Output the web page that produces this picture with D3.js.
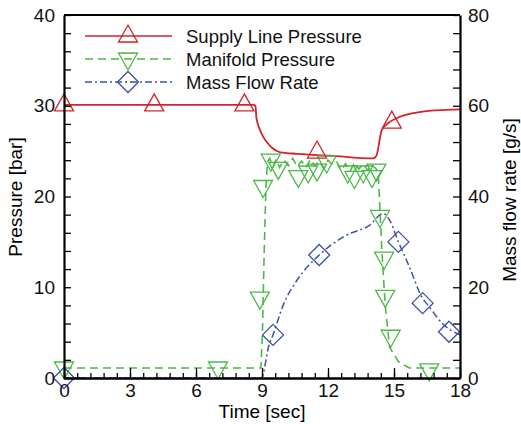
<!DOCTYPE html>
<html>
<head>
<meta charset="utf-8">
<script src="https://cdn.jsdelivr.net/npm/d3@7.9.0/dist/d3.min.js"></script>
<style>
  body { margin: 0; background: #fff; }
  svg { display: block; font-family: "Liberation Sans", Arial, sans-serif; }
</style>
</head>
<body>
<div id="chart"></div>
<script>
// Supply line pressure [bar]
const supplyTime = [0, 4, 8.6, 8.7, 8.75, 8.9, 9.05, 9.25, 9.44, 9.8, 10.6, 12.1, 14.05, 14.2, 14.44, 14.74, 15.1, 15.9, 16.9, 18];
const supplyP    = [30.1, 30.1, 30.1, 30.0, 28.6, 27.4, 26.6, 25.9, 25.4, 24.9, 24.7, 24.5, 24.2, 24.5, 27.3, 28.1, 28.6, 29.2, 29.5, 29.6];
const supplyMarkT = [0, 4.1, 8.2, 11.5, 14.9];
const supplyMarkP = [30.1, 30.1, 30.1, 24.9, 28.2];

// Manifold pressure [bar]
const manifoldTime = [0, 8.95, 9.02, 9.1, 9.18, 9.25, 9.35, 9.5, 9.65, 9.8, 10.0, 10.2, 10.4, 10.6, 10.8, 11.0, 11.2, 11.4,
  11.6, 11.8, 12.0, 12.2, 12.4, 12.6, 12.8, 13.0, 13.2, 13.4, 13.6, 13.8, 14.0, 14.2, 14.3, 14.45, 14.6, 14.8, 15.2, 15.7, 18];
const manifoldP = [1.1, 1.1, 5, 14, 21, 23.8, 24.2, 23.3, 24.1, 23.2, 24.0, 23.4, 24.2, 23.3, 23.9, 23.2, 24.1, 23.4,
  23.9, 23.1, 24.0, 23.5, 23.8, 22.9, 23.6, 22.8, 23.7, 23.0, 23.6, 22.9, 23.5, 23.0, 21.8, 14, 8, 3.4, 1.8, 1.1, 1.1];
const manifoldMarkT = [0, 7.0, 8.9, 9.05, 9.4, 9.74, 10.65, 11.1, 11.5, 11.94, 12.9, 13.2, 13.6, 14.0, 14.2, 14.36, 14.55, 14.6, 14.85, 16.6];
const manifoldMarkP = [1.1, 1.1, 8.8, 21.1, 24.0, 23.1, 22.2, 22.7, 22.9, 23.8, 22.7, 22.1, 22.7, 22.2, 22.9, 17.8, 13.2, 9.0, 4.6, 0.9];

// Mass flow rate [g/s]
const massTime = [0, 9.0, 9.06, 9.3, 9.5, 10.0, 10.6, 11.6, 12.85, 13.9, 14.5, 14.8, 15.2, 15.7, 16.26, 16.6, 17.2, 18];
const massFlow = [0, 0, 1, 6.9, 9.5, 16.5, 21.6, 27.1, 31.5, 33.7, 36.3, 34.8, 30.0, 24.5, 17.9, 15.7, 12.0, 9.5];
const massMarkT = [0, 9.5, 11.6, 15.2, 16.3, 17.5];
const massMarkV = [0, 9.5, 27.1, 30.0, 16.5, 10.2];

const legendLabels = ['Supply Line Pressure', 'Manifold Pressure', 'Mass Flow Rate'];

const width = 521;
const height = 424;
const margin = { top: 15, right: 61, bottom: 46, left: 64 };

const red = '#d4222c';
const green = '#4cb848';
const blue = '#3a52a3';

const svg = d3.select('#chart')
  .append('svg')
  .attr('width', width)
  .attr('height', height);

const x = d3.scaleLinear().domain([0, 18]).range([margin.left, width - margin.right]);
const yL = d3.scaleLinear().domain([0, 40]).range([height - margin.bottom, margin.top]);
const yR = d3.scaleLinear().domain([0, 80]).range([height - margin.bottom, margin.top]);

// marker shapes
const triUp = 'M0,-11L9.5,6L-9.5,6Z';
const triDown = 'M0,11L9.5,-6L-9.5,-6Z';
const diamond = 'M0,-10.5L10.5,0L0,10.5L-10.5,0Z';

// Lines
const supplyLine = d3.line().x(d => x(d[0])).y(d => yL(d[1])).curve(d3.curveMonotoneX);
const massLine = d3.line().x(d => x(d[0])).y(d => yR(d[1])).curve(d3.curveMonotoneX);

svg.append('path')
  .datum(d3.zip(manifoldTime, manifoldP))
  .attr('d', d3.line().x(d => x(d[0])).y(d => yL(d[1])))
  .attr('fill', 'none')
  .attr('stroke', green)
  .attr('stroke-width', 1.6)
  .attr('stroke-dasharray', '8,5');

svg.append('path')
  .datum(d3.zip(massTime, massFlow))
  .attr('d', massLine)
  .attr('fill', 'none')
  .attr('stroke', blue)
  .attr('stroke-width', 1.5)
  .attr('stroke-dasharray', '7,3,2,3');

svg.append('path')
  .datum(d3.zip(supplyTime, supplyP))
  .attr('d', supplyLine)
  .attr('fill', 'none')
  .attr('stroke', red)
  .attr('stroke-width', 1.8);

// Markers
function markers(ts, vs, scale, shape, color) {
  svg.append('g')
    .selectAll('path')
    .data(d3.zip(ts, vs))
    .join('path')
    .attr('transform', d => `translate(${x(d[0])},${scale(d[1])})`)
    .attr('d', shape)
    .attr('fill', 'none')
    .attr('stroke', color)
    .attr('stroke-width', 1.3);
}
markers(manifoldMarkT, manifoldMarkP, yL, triDown, green);
markers(massMarkT, massMarkV, yR, diamond, blue);
markers(supplyMarkT, supplyMarkP, yL, triUp, red);

// Axes
const fontSize = '19px';

svg.append('g')
  .attr('transform', `translate(0,${height - margin.bottom})`)
  .call(d3.axisBottom(x).tickValues(d3.range(0, 19, 3)).tickSize(-10).tickPadding(6).tickSizeOuter(0));

svg.append('g')
  .attr('transform', `translate(0,${height - margin.bottom})`)
  .call(d3.axisBottom(x).tickValues(d3.range(0, 18.01, 0.6)).tickSize(-5).tickFormat('').tickSizeOuter(0));

svg.append('g')
  .attr('transform', `translate(${margin.left},0)`)
  .call(d3.axisLeft(yL).tickValues(d3.range(0, 41, 2)).tickSize(-7).tickPadding(9).tickSizeOuter(0)
    .tickFormat(d => d % 10 === 0 ? d : ''));

svg.append('g')
  .attr('transform', `translate(${width - margin.right},0)`)
  .call(d3.axisRight(yR).tickValues(d3.range(0, 81, 4)).tickSize(-7).tickPadding(8).tickSizeOuter(0)
    .tickFormat(d => d % 20 === 0 ? d : ''));

svg.append('line')
  .attr('x1', margin.left).attr('x2', width - margin.right)
  .attr('y1', margin.top).attr('y2', margin.top)
  .attr('stroke', '#000').attr('stroke-width', 2);

svg.selectAll('.domain').attr('stroke-width', 2.2);
svg.selectAll('.tick line').attr('stroke-width', 1.3);
svg.selectAll('.tick text')
  .attr('font-size', fontSize)
  .attr('font-family', '"Liberation Sans", Arial, sans-serif')
  .attr('fill', '#111');

// Axis titles
svg.append('text')
  .attr('x', (margin.left + width - margin.right) / 2)
  .attr('y', 418)
  .attr('text-anchor', 'middle')
  .attr('font-size', fontSize)
  .text('Time [sec]');

svg.append('text')
  .attr('transform', `translate(22,197) rotate(-90)`)
  .attr('text-anchor', 'middle')
  .attr('font-size', fontSize)
  .text('Pressure [bar]');

svg.append('text')
  .attr('transform', `translate(516,200) rotate(-90)`)
  .attr('text-anchor', 'middle')
  .attr('font-size', fontSize)
  .text('Mass flow rate [g/s]');

// Legend
const legendStyles = [
  { color: red, dash: null, shape: triUp },
  { color: green, dash: '8,5', shape: triDown },
  { color: blue, dash: '7,3,2,3', shape: diamond },
];
const legend = svg.append('g');
legendLabels.forEach((label, i) => {
  const ly = 36 + i * 23;
  const st = legendStyles[i];
  legend.append('line')
    .attr('x1', 85).attr('x2', 172)
    .attr('y1', ly).attr('y2', ly)
    .attr('stroke', st.color)
    .attr('stroke-width', 1.6)
    .attr('stroke-dasharray', st.dash);
  legend.append('path')
    .attr('transform', `translate(128,${ly})`)
    .attr('d', st.shape)
    .attr('fill', 'none')
    .attr('stroke', st.color)
    .attr('stroke-width', 1.3);
  legend.append('text')
    .attr('x', 186)
    .attr('y', ly + 6.5)
    .attr('font-size', '18.5px')
    .attr('fill', '#111')
    .text(label);
});
</script>
</body>
</html>
